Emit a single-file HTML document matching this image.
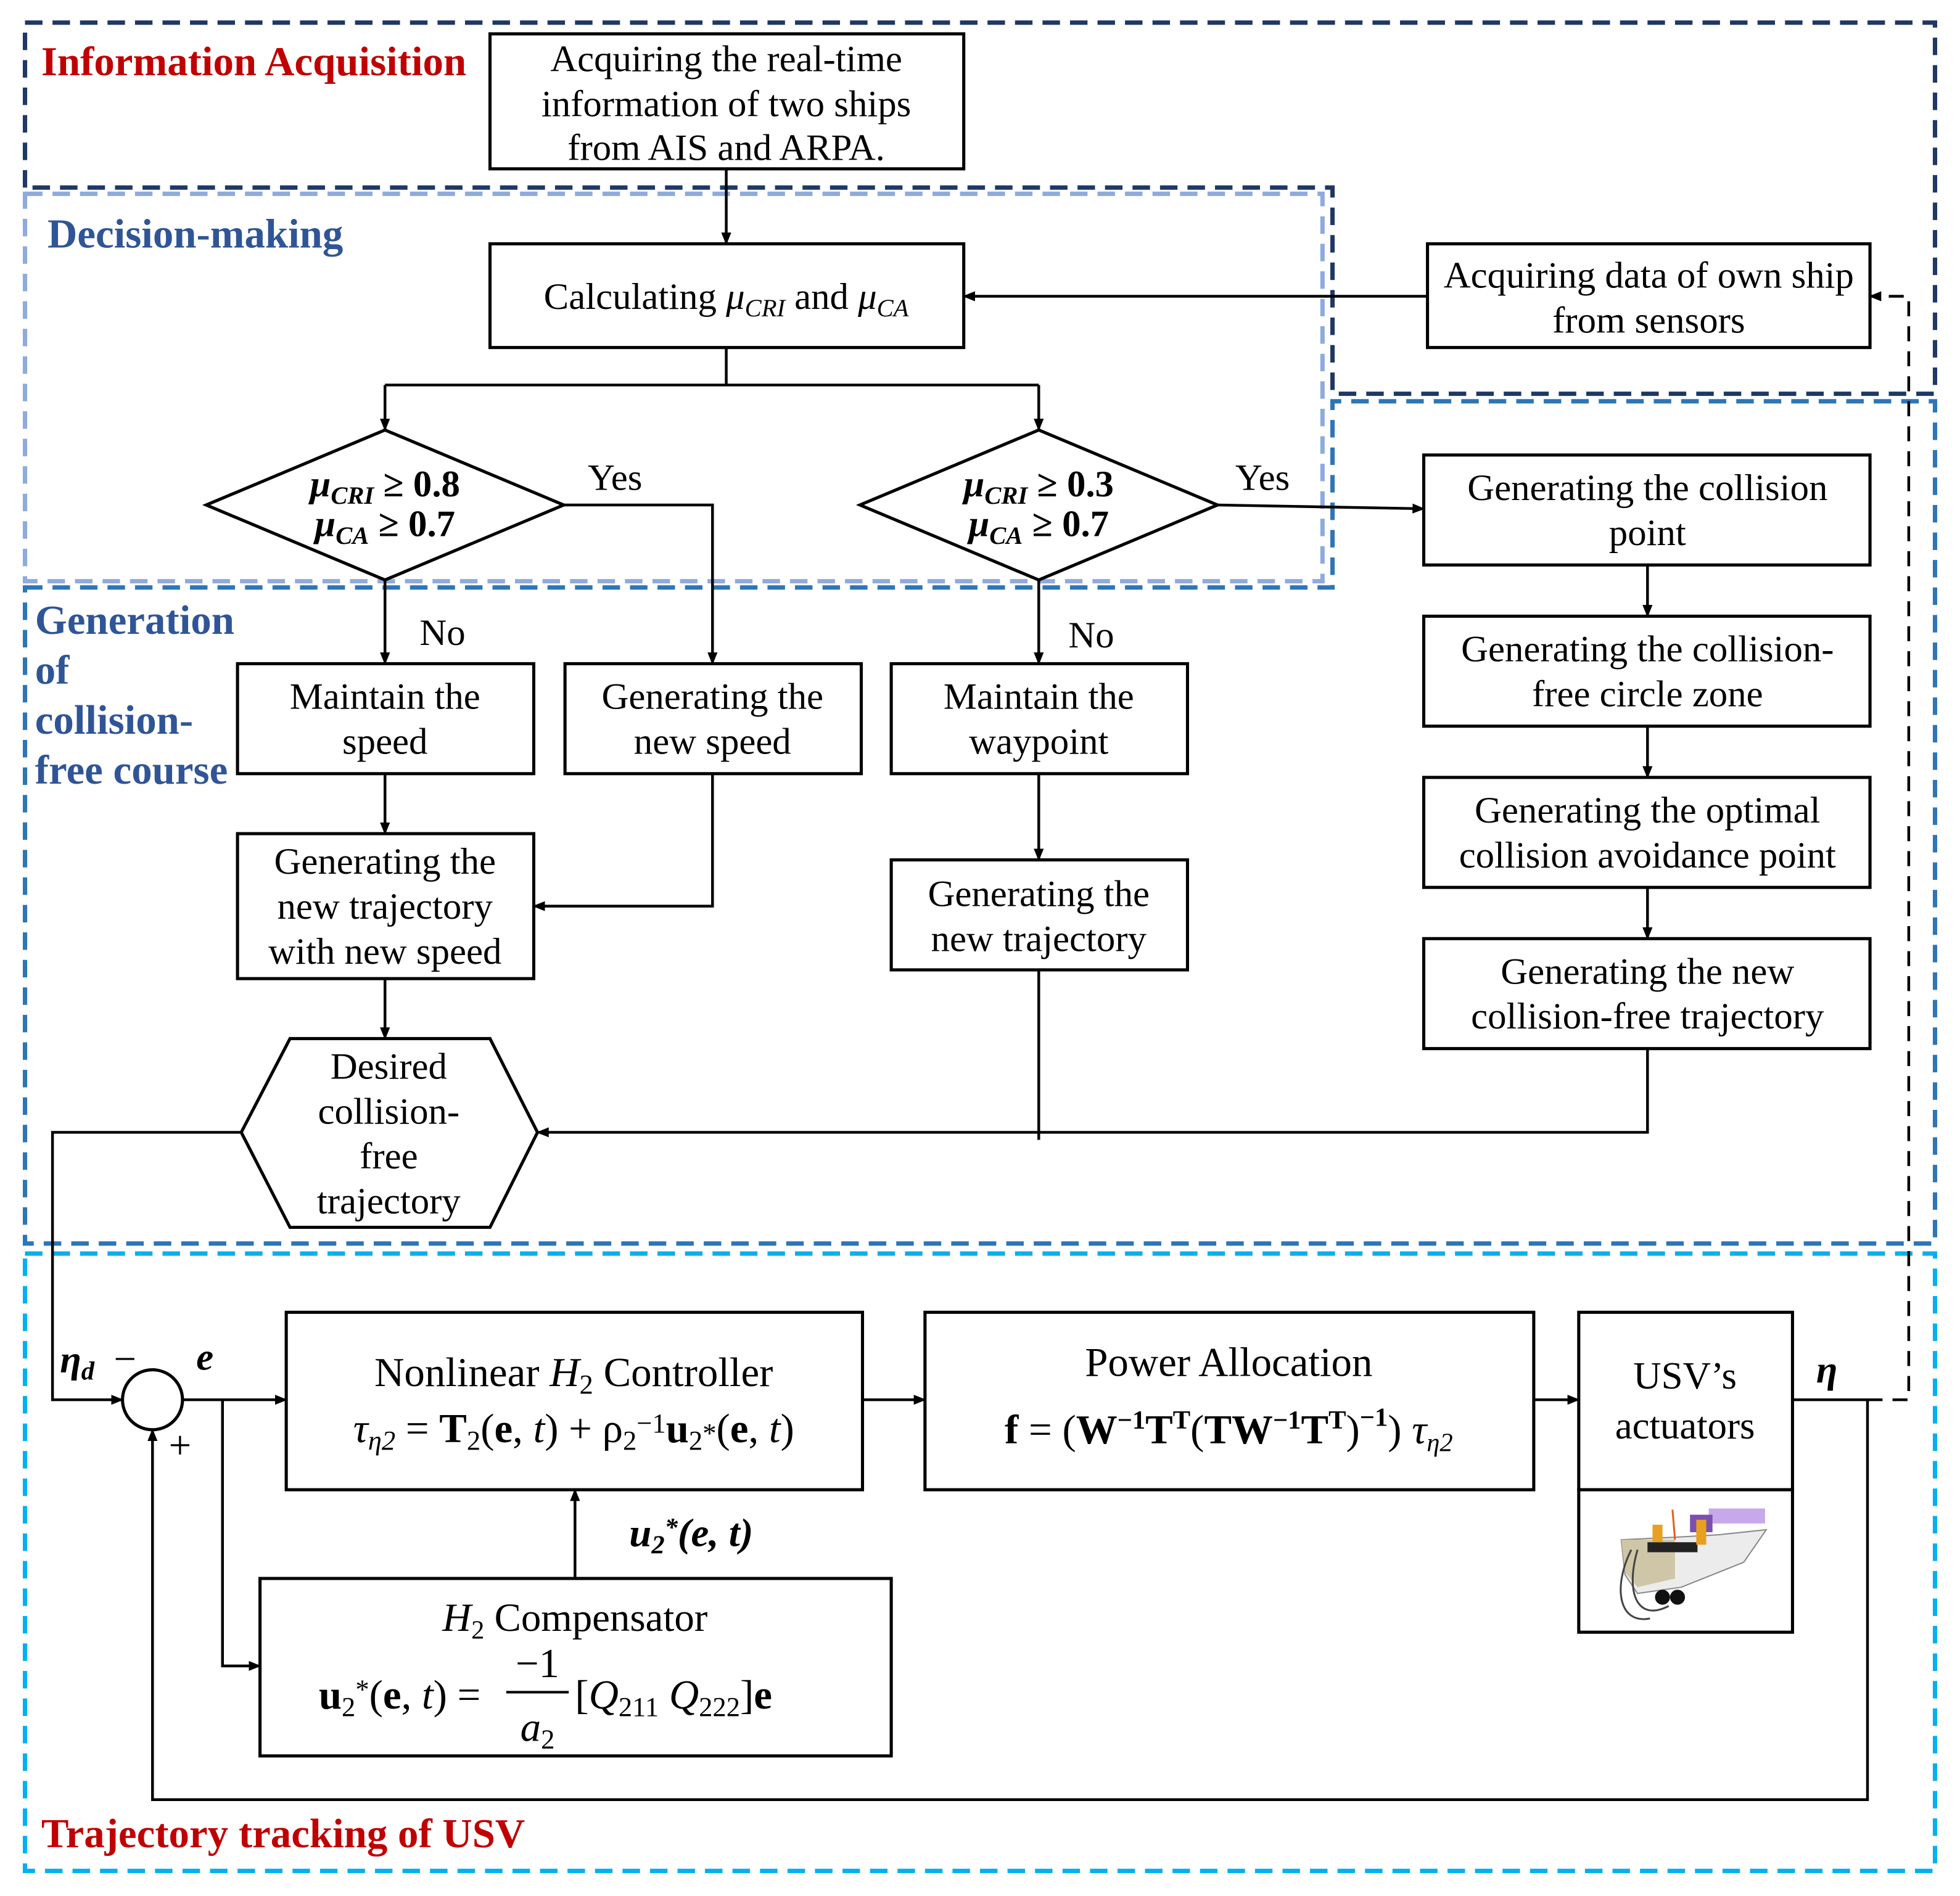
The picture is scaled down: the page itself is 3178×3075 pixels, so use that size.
<!DOCTYPE html>
<html><head><meta charset="utf-8"><style>
html,body{margin:0;padding:0;background:#fff;}
svg{display:block;}
text{font-family:"Liberation Serif",serif;}
</style></head><body>
<svg width="3178" height="3075" viewBox="0 0 1568 1517" xmlns="http://www.w3.org/2000/svg">
<defs>
<marker id="ar" markerWidth="10" markerHeight="10" refX="9" refY="5" orient="auto" markerUnits="userSpaceOnUse">
<path d="M0,1 L10,5 L0,9 z" fill="#000"/></marker>
</defs>
<rect width="1568" height="1517" fill="#fff"/>
<g fill="none" stroke-width="3.5" stroke-dasharray="14,8">
<path d="M20,150 L20,18 L1548,18 L1548,315 L1066,315 L1066,150 Z" stroke="#1f3864"/>
<rect x="20" y="155" width="1038" height="310" stroke="#8faadc"/>
<path d="M20,470 L1066,470 L1066,321 L1548,321 L1548,995 L20,995 Z" stroke="#2e75b6"/>
<rect x="20" y="1003" width="1528" height="494" stroke="#00b0f0"/>
</g>
<g font-weight="bold" font-size="33">
<text x="33" y="60" fill="#c00000">Information Acquisition</text>
<text x="38" y="198" fill="#2f5597">Decision-making</text>
<text x="28" y="507" fill="#2f5597">Generation</text>
<text x="28" y="547" fill="#2f5597">of</text>
<text x="28" y="587" fill="#2f5597">collision-</text>
<text x="28" y="627" fill="#2f5597">free course</text>
<text x="33" y="1478" fill="#c00000">Trajectory tracking of USV</text>
</g>
<g fill="#fff" stroke="#000" stroke-width="2.5">
<rect x="392" y="27" width="379" height="108"/>
<rect x="392" y="195" width="379" height="83"/>
<rect x="1142" y="195" width="354" height="83"/>
<polygon points="165,404 308,344 451,404 308,464"/>
<polygon points="688,404 831,344 974,404 831,464"/>
<rect x="190" y="531" width="237" height="88"/>
<rect x="452" y="531" width="237" height="88"/>
<rect x="713" y="531" width="237" height="88"/>
<rect x="190" y="667" width="237" height="116"/>
<rect x="713" y="688" width="237" height="88"/>
<rect x="1139" y="364" width="357" height="88"/>
<rect x="1139" y="493" width="357" height="88"/>
<rect x="1139" y="622" width="357" height="88"/>
<rect x="1139" y="751" width="357" height="88"/>
<polygon points="193,906 232,831 392,831 430,906 392,982 232,982"/>
<rect x="229" y="1050" width="461" height="142"/>
<rect x="740" y="1050" width="487" height="142"/>
<rect x="1263" y="1050" width="171" height="142"/>
<rect x="1263" y="1192" width="171" height="114"/>
<rect x="208" y="1263" width="505" height="142"/>
<circle cx="122" cy="1120" r="24"/>
</g>
<g fill="none" stroke="#000" stroke-width="2.2">
<path d="M581,135 V195" marker-end="url(#ar)"/>
<path d="M1142,237 H771" marker-end="url(#ar)"/>
<path d="M581,278 V308 M308,308 H831"/>
<path d="M308,308 V344" marker-end="url(#ar)"/>
<path d="M831,308 V344" marker-end="url(#ar)"/>
<path d="M451,404 H570 V531" marker-end="url(#ar)"/>
<path d="M974,404 L1139,407" marker-end="url(#ar)"/>
<path d="M308,464 V531" marker-end="url(#ar)"/>
<path d="M831,464 V531" marker-end="url(#ar)"/>
<path d="M308,619 V667" marker-end="url(#ar)"/>
<path d="M570,619 V725 H427" marker-end="url(#ar)"/>
<path d="M308,783 V831" marker-end="url(#ar)"/>
<path d="M831,619 V688" marker-end="url(#ar)"/>
<path d="M831,776 V912"/>
<path d="M1318,452 V493" marker-end="url(#ar)"/>
<path d="M1318,581 V622" marker-end="url(#ar)"/>
<path d="M1318,710 V751" marker-end="url(#ar)"/>
<path d="M1318,839 V906 H430" marker-end="url(#ar)"/>
<path d="M193,906 H42 V1120 H98" marker-end="url(#ar)"/>
<path d="M146,1120 H229" marker-end="url(#ar)"/>
<path d="M178,1120 V1333 H208" marker-end="url(#ar)"/>
<path d="M460,1263 V1192" marker-end="url(#ar)"/>
<path d="M690,1120 H740" marker-end="url(#ar)"/>
<path d="M1227,1120 H1263" marker-end="url(#ar)"/>
<path d="M1434,1120 H1494 V1440 H122 V1144" marker-end="url(#ar)"/>
<path d="M1494,1120 H1527 V237 H1496" stroke-dasharray="12,8" marker-end="url(#ar)"/>
</g>
<g font-size="30" text-anchor="middle" fill="#000">
<text x="581" y="57">Acquiring the real-time</text>
<text x="581" y="93">information of two ships</text>
<text x="581" y="128">from AIS and ARPA.</text>
<text x="581" y="247">Calculating <tspan font-style="italic">μ</tspan><tspan font-style="italic" font-size="20" dy="6">CRI</tspan><tspan dy="-6"> and </tspan><tspan font-style="italic">μ</tspan><tspan font-style="italic" font-size="20" dy="6">CA</tspan></text>
<text x="1319" y="230">Acquiring data of own ship</text>
<text x="1319" y="266">from sensors</text>
<text x="308" y="397" font-weight="bold" font-style="italic">μ<tspan font-size="20" dy="6">CRI</tspan><tspan dy="-6" font-style="normal"> ≥ 0.8</tspan></text>
<text x="308" y="429" font-weight="bold" font-style="italic">μ<tspan font-size="20" dy="6">CA</tspan><tspan dy="-6" font-style="normal">  ≥ 0.7</tspan></text>
<text x="831" y="397" font-weight="bold" font-style="italic">μ<tspan font-size="20" dy="6">CRI</tspan><tspan dy="-6" font-style="normal"> ≥ 0.3</tspan></text>
<text x="831" y="429" font-weight="bold" font-style="italic">μ<tspan font-size="20" dy="6">CA</tspan><tspan dy="-6" font-style="normal">  ≥ 0.7</tspan></text>
<text x="492" y="392">Yes</text>
<text x="1010" y="392">Yes</text>
<text x="354" y="516">No</text>
<text x="873" y="518">No</text>
<text x="308" y="567">Maintain the</text>
<text x="308" y="603">speed</text>
<text x="570" y="567">Generating the</text>
<text x="570" y="603">new speed</text>
<text x="831" y="567">Maintain the</text>
<text x="831" y="603">waypoint</text>
<text x="308" y="699">Generating the</text>
<text x="308" y="735">new trajectory</text>
<text x="308" y="771">with new speed</text>
<text x="831" y="725">Generating the</text>
<text x="831" y="761">new trajectory</text>
<text x="1318" y="400">Generating the collision</text>
<text x="1318" y="436">point</text>
<text x="1318" y="529">Generating the collision-</text>
<text x="1318" y="565">free circle zone</text>
<text x="1318" y="658">Generating the optimal</text>
<text x="1318" y="694">collision avoidance point</text>
<text x="1318" y="787">Generating the new</text>
<text x="1318" y="823">collision-free trajectory</text>
<text x="311" y="863">Desired</text>
<text x="311" y="899">collision-</text>
<text x="311" y="935">free</text>
<text x="311" y="971">trajectory</text>
<text x="459" y="1109" font-size="33">Nonlinear <tspan font-style="italic">H</tspan><tspan font-size="22" dy="6">2</tspan><tspan dy="-6"> Controller</tspan></text>
<text x="459" y="1154" font-size="33"><tspan font-style="italic">τ</tspan><tspan font-style="italic" font-size="22" dy="6">η2</tspan><tspan dy="-6"> = </tspan><tspan font-weight="bold">T</tspan><tspan font-size="22" dy="6">2</tspan><tspan dy="-6">(</tspan><tspan font-weight="bold">e</tspan>, <tspan font-style="italic">t</tspan>) + ρ<tspan font-size="22" dy="6">2</tspan><tspan font-size="22" dy="-14">−1</tspan><tspan font-weight="bold" dy="8">u</tspan><tspan font-size="22" dy="6">2</tspan><tspan font-size="22" dy="-6">*</tspan>(<tspan font-weight="bold">e</tspan>, <tspan font-style="italic">t</tspan>)</text>
<text x="983" y="1101" font-size="33">Power Allocation</text>
<text x="983" y="1155" font-size="33"><tspan font-weight="bold">f</tspan> = (<tspan font-weight="bold">W</tspan><tspan font-size="21" font-weight="bold" dy="-12">−1</tspan><tspan font-weight="bold" dy="12">T</tspan><tspan font-size="21" font-weight="bold" dy="-12">T</tspan><tspan dy="12">(</tspan><tspan font-weight="bold">TW</tspan><tspan font-size="21" font-weight="bold" dy="-12">−1</tspan><tspan font-weight="bold" dy="12">T</tspan><tspan font-size="21" font-weight="bold" dy="-12">T</tspan><tspan dy="12">)</tspan><tspan font-size="21" font-weight="bold" dy="-14">−1</tspan><tspan dy="14">) </tspan><tspan font-style="italic">τ</tspan><tspan font-style="italic" font-size="21" dy="6">η2</tspan></text>
<text x="1348" y="1111" font-size="31">USV’s</text>
<text x="1348" y="1151" font-size="31">actuators</text>
<text x="460" y="1305" font-size="32"><tspan font-style="italic">H</tspan><tspan font-size="21" dy="6">2</tspan><tspan dy="-6"> Compensator</tspan></text>
<text x="553" y="1237" font-size="32" font-weight="bold" font-style="italic">u<tspan font-size="21" dy="6">2</tspan><tspan font-size="21" dy="-14">*</tspan><tspan dy="8">(e, t)</tspan></text>
</g>
<g font-size="33" fill="#000">
<text x="255" y="1367"><tspan font-weight="bold">u</tspan><tspan font-size="22" dy="6">2</tspan><tspan font-size="22" dy="-14">*</tspan><tspan dy="8">(</tspan><tspan font-weight="bold">e</tspan>, <tspan font-style="italic">t</tspan>) =</text>
<text x="430" y="1342" text-anchor="middle">−1</text>
<line x1="405" y1="1354" x2="455" y2="1354" stroke="#000" stroke-width="2"/>
<text x="430" y="1393" text-anchor="middle" font-style="italic">a<tspan font-style="normal" font-size="22" dy="6">2</tspan></text>
<text x="460" y="1367">[<tspan font-style="italic">Q</tspan><tspan font-size="22" dy="6">211</tspan><tspan dy="-6">    </tspan><tspan font-style="italic">Q</tspan><tspan font-size="22" dy="6">222</tspan><tspan dy="-6">]</tspan><tspan font-weight="bold">e</tspan></text>
</g>
<g font-size="31" font-weight="bold" font-style="italic">
<text x="48" y="1098">η<tspan font-size="21" dy="6">d</tspan></text>
<text x="157" y="1096">e</text>
<text x="1453" y="1106">η</text>
</g>
<text x="91" y="1098" font-size="32">−</text>
<text x="135" y="1167" font-size="32">+</text>
<g>
<polygon points="1297,1232 1300,1260 1310,1275 1345,1270 1395,1250 1413,1224 1375,1228 1340,1230" fill="#ececec" stroke="#888" stroke-width="1"/>
<polygon points="1297,1232 1340,1232 1340,1263 1310,1270 1300,1258" fill="#cfc6a8"/>
<rect x="1318" y="1234" width="40" height="8" fill="#222"/>
<rect x="1367" y="1207" width="45" height="12" fill="#c7a8e8"/>
<rect x="1352" y="1212" width="18" height="14" fill="#7b4fb0"/>
<rect x="1322" y="1220" width="8" height="14" fill="#e8a020"/>
<rect x="1357" y="1216" width="8" height="20" fill="#e8a020"/>
<line x1="1338" y1="1208" x2="1340" y2="1232" stroke="#e06020" stroke-width="1.5"/>
<circle cx="1330" cy="1278" r="6" fill="#111"/>
<circle cx="1342" cy="1278" r="6" fill="#111"/>
<path d="M1305,1240 C1290,1270 1295,1300 1320,1295 M1310,1240 C1300,1275 1310,1298 1335,1285" stroke="#444" stroke-width="1.5" fill="none"/>
</g>
</svg>
</body></html>
